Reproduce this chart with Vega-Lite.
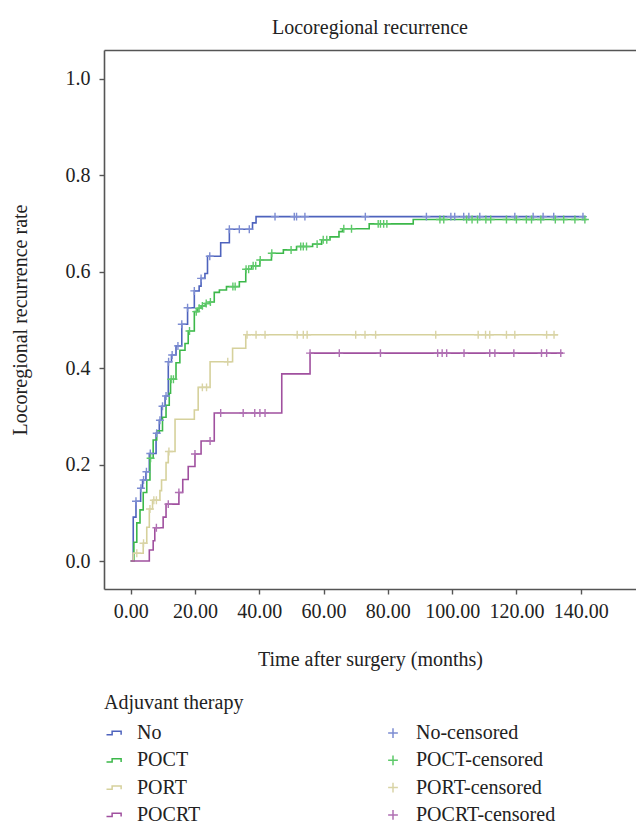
{
  "$schema": "https://vega.github.io/schema/vega-lite/v6.json",
  "width": 532,
  "height": 539,
  "autosize": {"type": "none"},
  "padding": {"left": 104, "top": 50, "right": 0, "bottom": 236},
  "background": "white",
  "title": {"text": "Locoregional recurrence", "font": "Liberation Serif", "fontSize": 20, "fontWeight": "normal", "anchor": "middle", "frame": "group", "offset": 12, "color": "#222222"},
  "config": {
    "view": {"stroke": null},
    "axis": {"labelFont": "Liberation Serif", "labelFontSize": 20, "labelColor": "#222222", "titleFont": "Liberation Serif", "titleFontSize": 20, "titleFontWeight": "normal", "titleColor": "#222222", "domainColor": "#555555", "domainWidth": 1.6, "tickColor": "#555555", "tickWidth": 1.4, "tickSize": 5, "grid": false},
    "legend": {"labelFont": "Liberation Serif", "labelFontSize": 20, "labelColor": "#222222", "titleFont": "Liberation Serif", "titleFontSize": 20, "titleFontWeight": "normal", "titleColor": "#222222"}
  },
  "datasets": {
    "curves": [
      {"g": "No", "t": 0, "r": 0}, {"g": "No", "t": 0.8, "r": 0.091}, {"g": "No", "t": 1.65, "r": 0.124}, {"g": "No", "t": 3.1, "r": 0.151}, {"g": "No", "t": 3.7, "r": 0.168}, {"g": "No", "t": 4.75, "r": 0.185}, {"g": "No", "t": 5.8, "r": 0.223}, {"g": "No", "t": 7.9, "r": 0.265}, {"g": "No", "t": 8.9, "r": 0.292}, {"g": "No", "t": 9.6, "r": 0.321}, {"g": "No", "t": 10.7, "r": 0.342}, {"g": "No", "t": 11.7, "r": 0.413}, {"g": "No", "t": 12.7, "r": 0.427}, {"g": "No", "t": 14.1, "r": 0.446}, {"g": "No", "t": 15.9, "r": 0.491}, {"g": "No", "t": 17.7, "r": 0.525}, {"g": "No", "t": 19.8, "r": 0.56}, {"g": "No", "t": 21.3, "r": 0.57}, {"g": "No", "t": 21.9, "r": 0.586}, {"g": "No", "t": 23.1, "r": 0.596}, {"g": "No", "t": 23.9, "r": 0.632}, {"g": "No", "t": 28.0, "r": 0.66}, {"g": "No", "t": 30.7, "r": 0.688}, {"g": "No", "t": 37.9, "r": 0.701}, {"g": "No", "t": 39.0, "r": 0.714}, {"g": "No", "t": 141.5, "r": 0.714},
      {"g": "POCT", "t": 0, "r": 0}, {"g": "POCT", "t": 1.0, "r": 0.039}, {"g": "POCT", "t": 1.9, "r": 0.079}, {"g": "POCT", "t": 2.9, "r": 0.106}, {"g": "POCT", "t": 3.9, "r": 0.142}, {"g": "POCT", "t": 5.0, "r": 0.168}, {"g": "POCT", "t": 6.0, "r": 0.213}, {"g": "POCT", "t": 7.0, "r": 0.251}, {"g": "POCT", "t": 8.1, "r": 0.27}, {"g": "POCT", "t": 9.9, "r": 0.298}, {"g": "POCT", "t": 11.0, "r": 0.323}, {"g": "POCT", "t": 12.0, "r": 0.348}, {"g": "POCT", "t": 12.4, "r": 0.377}, {"g": "POCT", "t": 14.1, "r": 0.411}, {"g": "POCT", "t": 15.3, "r": 0.437}, {"g": "POCT", "t": 16.9, "r": 0.451}, {"g": "POCT", "t": 17.9, "r": 0.477}, {"g": "POCT", "t": 19.8, "r": 0.517}, {"g": "POCT", "t": 20.9, "r": 0.524}, {"g": "POCT", "t": 21.9, "r": 0.529}, {"g": "POCT", "t": 23.2, "r": 0.534}, {"g": "POCT", "t": 24.5, "r": 0.537}, {"g": "POCT", "t": 26.0, "r": 0.557}, {"g": "POCT", "t": 27.6, "r": 0.562}, {"g": "POCT", "t": 29.8, "r": 0.569}, {"g": "POCT", "t": 33.8, "r": 0.579}, {"g": "POCT", "t": 35.8, "r": 0.605}, {"g": "POCT", "t": 37.6, "r": 0.612}, {"g": "POCT", "t": 40.2, "r": 0.624}, {"g": "POCT", "t": 43.8, "r": 0.638}, {"g": "POCT", "t": 47.5, "r": 0.645}, {"g": "POCT", "t": 51.6, "r": 0.652}, {"g": "POCT", "t": 56.6, "r": 0.657}, {"g": "POCT", "t": 59.4, "r": 0.666}, {"g": "POCT", "t": 62.0, "r": 0.672}, {"g": "POCT", "t": 64.8, "r": 0.683}, {"g": "POCT", "t": 65.9, "r": 0.689}, {"g": "POCT", "t": 74.2, "r": 0.699}, {"g": "POCT", "t": 87.9, "r": 0.708}, {"g": "POCT", "t": 141.9, "r": 0.708},
      {"g": "PORT", "t": 0, "r": 0}, {"g": "PORT", "t": 0.8, "r": 0.016}, {"g": "PORT", "t": 3.9, "r": 0.037}, {"g": "PORT", "t": 5.0, "r": 0.07}, {"g": "PORT", "t": 5.8, "r": 0.108}, {"g": "PORT", "t": 6.8, "r": 0.126}, {"g": "PORT", "t": 9.1, "r": 0.146}, {"g": "PORT", "t": 9.6, "r": 0.168}, {"g": "PORT", "t": 11.0, "r": 0.204}, {"g": "PORT", "t": 11.7, "r": 0.227}, {"g": "PORT", "t": 13.8, "r": 0.294}, {"g": "PORT", "t": 19.8, "r": 0.313}, {"g": "PORT", "t": 21.0, "r": 0.36}, {"g": "PORT", "t": 24.7, "r": 0.413}, {"g": "PORT", "t": 31.7, "r": 0.441}, {"g": "PORT", "t": 35.8, "r": 0.469}, {"g": "PORT", "t": 133.0, "r": 0.469},
      {"g": "POCRT", "t": 0, "r": 0}, {"g": "POCRT", "t": 5.8, "r": 0.023}, {"g": "POCRT", "t": 7.0, "r": 0.042}, {"g": "POCRT", "t": 7.5, "r": 0.069}, {"g": "POCRT", "t": 10.1, "r": 0.091}, {"g": "POCRT", "t": 11.0, "r": 0.118}, {"g": "POCRT", "t": 15.0, "r": 0.142}, {"g": "POCRT", "t": 16.2, "r": 0.169}, {"g": "POCRT", "t": 17.9, "r": 0.196}, {"g": "POCRT", "t": 20.0, "r": 0.222}, {"g": "POCRT", "t": 21.9, "r": 0.249}, {"g": "POCRT", "t": 26.0, "r": 0.307}, {"g": "POCRT", "t": 47.0, "r": 0.388}, {"g": "POCRT", "t": 55.8, "r": 0.431}, {"g": "POCRT", "t": 134.5, "r": 0.431}
    ],
    "censored": [
      {"g": "No-censored", "t": 1.65, "r": 0.124}, {"g": "No-censored", "t": 3.2, "r": 0.151}, {"g": "No-censored", "t": 4.0, "r": 0.168}, {"g": "No-censored", "t": 4.9, "r": 0.185}, {"g": "No-censored", "t": 6.1, "r": 0.223}, {"g": "No-censored", "t": 8.1, "r": 0.265}, {"g": "No-censored", "t": 9.1, "r": 0.292}, {"g": "No-censored", "t": 9.9, "r": 0.321}, {"g": "No-censored", "t": 11.0, "r": 0.342}, {"g": "No-censored", "t": 11.8, "r": 0.413}, {"g": "No-censored", "t": 12.9, "r": 0.427}, {"g": "No-censored", "t": 14.7, "r": 0.446}, {"g": "No-censored", "t": 15.9, "r": 0.491}, {"g": "No-censored", "t": 17.7, "r": 0.525}, {"g": "No-censored", "t": 19.8, "r": 0.56}, {"g": "No-censored", "t": 21.9, "r": 0.586}, {"g": "No-censored", "t": 24.6, "r": 0.632}, {"g": "No-censored", "t": 30.7, "r": 0.688}, {"g": "No-censored", "t": 33.8, "r": 0.688}, {"g": "No-censored", "t": 36.9, "r": 0.688}, {"g": "No-censored", "t": 44.9, "r": 0.714}, {"g": "No-censored", "t": 50.9, "r": 0.714}, {"g": "No-censored", "t": 51.6, "r": 0.714}, {"g": "No-censored", "t": 54.2, "r": 0.714}, {"g": "No-censored", "t": 73.0, "r": 0.714}, {"g": "No-censored", "t": 92.0, "r": 0.714}, {"g": "No-censored", "t": 99.6, "r": 0.714}, {"g": "No-censored", "t": 100.8, "r": 0.714}, {"g": "No-censored", "t": 103.6, "r": 0.714}, {"g": "No-censored", "t": 105.2, "r": 0.714}, {"g": "No-censored", "t": 108.6, "r": 0.714}, {"g": "No-censored", "t": 119.5, "r": 0.714}, {"g": "No-censored", "t": 125.2, "r": 0.714}, {"g": "No-censored", "t": 128.3, "r": 0.714}, {"g": "No-censored", "t": 131.6, "r": 0.714}, {"g": "No-censored", "t": 140.7, "r": 0.714},
      {"g": "POCT-censored", "t": 6.2, "r": 0.213}, {"g": "POCT-censored", "t": 12.6, "r": 0.377}, {"g": "POCT-censored", "t": 13.3, "r": 0.377}, {"g": "POCT-censored", "t": 18.3, "r": 0.477}, {"g": "POCT-censored", "t": 20.4, "r": 0.517}, {"g": "POCT-censored", "t": 21.3, "r": 0.524}, {"g": "POCT-censored", "t": 22.3, "r": 0.529}, {"g": "POCT-censored", "t": 23.5, "r": 0.534}, {"g": "POCT-censored", "t": 24.8, "r": 0.537}, {"g": "POCT-censored", "t": 31.8, "r": 0.569}, {"g": "POCT-censored", "t": 32.5, "r": 0.569}, {"g": "POCT-censored", "t": 35.9, "r": 0.605}, {"g": "POCT-censored", "t": 36.7, "r": 0.605}, {"g": "POCT-censored", "t": 38.1, "r": 0.612}, {"g": "POCT-censored", "t": 38.9, "r": 0.612}, {"g": "POCT-censored", "t": 40.3, "r": 0.624}, {"g": "POCT-censored", "t": 43.9, "r": 0.638}, {"g": "POCT-censored", "t": 49.9, "r": 0.645}, {"g": "POCT-censored", "t": 52.9, "r": 0.652}, {"g": "POCT-censored", "t": 53.7, "r": 0.652}, {"g": "POCT-censored", "t": 54.7, "r": 0.652}, {"g": "POCT-censored", "t": 58.0, "r": 0.657}, {"g": "POCT-censored", "t": 59.9, "r": 0.666}, {"g": "POCT-censored", "t": 61.0, "r": 0.666}, {"g": "POCT-censored", "t": 66.3, "r": 0.689}, {"g": "POCT-censored", "t": 68.7, "r": 0.689}, {"g": "POCT-censored", "t": 77.0, "r": 0.699}, {"g": "POCT-censored", "t": 77.7, "r": 0.699}, {"g": "POCT-censored", "t": 78.7, "r": 0.699}, {"g": "POCT-censored", "t": 79.7, "r": 0.699}, {"g": "POCT-censored", "t": 96.2, "r": 0.708}, {"g": "POCT-censored", "t": 97.4, "r": 0.708}, {"g": "POCT-censored", "t": 104.5, "r": 0.708}, {"g": "POCT-censored", "t": 106.2, "r": 0.708}, {"g": "POCT-censored", "t": 107.9, "r": 0.708}, {"g": "POCT-censored", "t": 110.5, "r": 0.708}, {"g": "POCT-censored", "t": 112.0, "r": 0.708}, {"g": "POCT-censored", "t": 116.9, "r": 0.708}, {"g": "POCT-censored", "t": 120.0, "r": 0.708}, {"g": "POCT-censored", "t": 123.1, "r": 0.708}, {"g": "POCT-censored", "t": 124.7, "r": 0.708}, {"g": "POCT-censored", "t": 127.6, "r": 0.708}, {"g": "POCT-censored", "t": 132.1, "r": 0.708}, {"g": "POCT-censored", "t": 134.7, "r": 0.708}, {"g": "POCT-censored", "t": 138.2, "r": 0.708}, {"g": "POCT-censored", "t": 141.3, "r": 0.708},
      {"g": "PORT-censored", "t": 1.9, "r": 0.016}, {"g": "PORT-censored", "t": 4.0, "r": 0.037}, {"g": "PORT-censored", "t": 6.0, "r": 0.108}, {"g": "PORT-censored", "t": 7.2, "r": 0.126}, {"g": "PORT-censored", "t": 8.0, "r": 0.126}, {"g": "PORT-censored", "t": 11.9, "r": 0.227}, {"g": "PORT-censored", "t": 22.3, "r": 0.36}, {"g": "PORT-censored", "t": 23.6, "r": 0.36}, {"g": "PORT-censored", "t": 30.2, "r": 0.413}, {"g": "PORT-censored", "t": 36.2, "r": 0.469}, {"g": "PORT-censored", "t": 39.0, "r": 0.469}, {"g": "PORT-censored", "t": 41.8, "r": 0.469}, {"g": "PORT-censored", "t": 51.8, "r": 0.469}, {"g": "PORT-censored", "t": 53.7, "r": 0.469}, {"g": "PORT-censored", "t": 54.9, "r": 0.469}, {"g": "PORT-censored", "t": 70.0, "r": 0.469}, {"g": "PORT-censored", "t": 72.9, "r": 0.469}, {"g": "PORT-censored", "t": 76.2, "r": 0.469}, {"g": "PORT-censored", "t": 94.9, "r": 0.469}, {"g": "PORT-censored", "t": 108.1, "r": 0.469}, {"g": "PORT-censored", "t": 110.4, "r": 0.469}, {"g": "PORT-censored", "t": 111.7, "r": 0.469}, {"g": "PORT-censored", "t": 116.9, "r": 0.469}, {"g": "PORT-censored", "t": 119.5, "r": 0.469}, {"g": "PORT-censored", "t": 129.4, "r": 0.469}, {"g": "PORT-censored", "t": 131.7, "r": 0.469},
      {"g": "POCRT-censored", "t": 8.0, "r": 0.069}, {"g": "POCRT-censored", "t": 11.7, "r": 0.118}, {"g": "POCRT-censored", "t": 15.0, "r": 0.142}, {"g": "POCRT-censored", "t": 20.0, "r": 0.222}, {"g": "POCRT-censored", "t": 24.7, "r": 0.249}, {"g": "POCRT-censored", "t": 28.0, "r": 0.307}, {"g": "POCRT-censored", "t": 35.0, "r": 0.307}, {"g": "POCRT-censored", "t": 38.6, "r": 0.307}, {"g": "POCRT-censored", "t": 40.2, "r": 0.307}, {"g": "POCRT-censored", "t": 41.8, "r": 0.307}, {"g": "POCRT-censored", "t": 55.8, "r": 0.431}, {"g": "POCRT-censored", "t": 64.9, "r": 0.431}, {"g": "POCRT-censored", "t": 77.7, "r": 0.431}, {"g": "POCRT-censored", "t": 95.5, "r": 0.431}, {"g": "POCRT-censored", "t": 96.9, "r": 0.431}, {"g": "POCRT-censored", "t": 98.3, "r": 0.431}, {"g": "POCRT-censored", "t": 103.7, "r": 0.431}, {"g": "POCRT-censored", "t": 111.7, "r": 0.431}, {"g": "POCRT-censored", "t": 113.3, "r": 0.431}, {"g": "POCRT-censored", "t": 119.2, "r": 0.431}, {"g": "POCRT-censored", "t": 127.8, "r": 0.431}, {"g": "POCRT-censored", "t": 129.4, "r": 0.431}, {"g": "POCRT-censored", "t": 133.8, "r": 0.431}
    ]
  },
  "layer": [
    {
      "data": {"name": "curves"},
      "mark": {"type": "line", "interpolate": "step-after", "strokeWidth": 1.6},
      "encoding": {
        "x": {"field": "t", "type": "quantitative", "scale": {"domain": [-8.3, 157.2], "nice": false, "zero": false},
              "axis": {"orient": "bottom", "title": "Time after surgery (months)", "values": [0, 20, 40, 60, 80, 100, 120, 140], "format": ".2f", "labelPadding": 7, "titlePadding": 28, "labelFlush": false}},
        "y": {"field": "r", "type": "quantitative", "scale": {"domain": [-0.058, 1.0595], "nice": false, "zero": false},
              "axis": {"title": "Locoregional recurrence rate", "values": [0, 0.2, 0.4, 0.6, 0.8, 1.0], "format": ".1f", "labelPadding": 9, "titlePadding": 35, "labelFlush": false}},
        "color": {"field": "g", "type": "nominal",
                  "scale": {"domain": ["No", "POCT", "PORT", "POCRT", "No-censored", "POCT-censored", "PORT-censored", "POCRT-censored"],
                            "range": ["#4e63bd", "#3cb84a", "#d6d19c", "#a0509f", "#7d8dd2", "#5ec96a", "#d9d4a6", "#b070b3"]},
                  "legend": {"title": "Adjuvant therapy", "orient": "none", "legendX": 0, "legendY": 643, "columns": 2, "columnPadding": 182, "rowPadding": 7.3, "symbolSize": 225, "symbolStrokeWidth": 1.5, "labelOffset": 13, "padding": 0, "titlePadding": 10}}
      }
    },
    {
      "data": {"name": "censored"},
      "mark": {"type": "point", "filled": false, "strokeWidth": 1.4, "size": 150, "opacity": 1},
      "encoding": {
        "x": {"field": "t", "type": "quantitative", "axis": {"orient": "top", "title": null, "labels": false, "ticks": false, "domain": true}},
        "y": {"field": "r", "type": "quantitative",
              "axis": {"title": "Locoregional recurrence rate", "values": [0, 0.2, 0.4, 0.6, 0.8, 1.0], "format": ".1f", "labelPadding": 9, "titlePadding": 35, "labelFlush": false}},
        "color": {"field": "g", "type": "nominal",
                  "legend": {"title": "Adjuvant therapy", "orient": "none", "legendX": 0, "legendY": 643, "columns": 2, "columnPadding": 182, "rowPadding": 7.3, "symbolSize": 225, "symbolStrokeWidth": 1.5, "labelOffset": 13, "padding": 0, "titlePadding": 10}},
        "shape": {"field": "g", "type": "nominal",
                  "scale": {"domain": ["No", "POCT", "PORT", "POCRT", "No-censored", "POCT-censored", "PORT-censored", "POCRT-censored"],
                            "range": ["M-1,0.22H-0.25V-0.22H0.95V0.22", "M-1,0.22H-0.25V-0.22H0.95V0.22", "M-1,0.22H-0.25V-0.22H0.95V0.22", "M-1,0.22H-0.25V-0.22H0.95V0.22", "M-0.65,0H0.65M0,-0.65V0.65", "M-0.65,0H0.65M0,-0.65V0.65", "M-0.65,0H0.65M0,-0.65V0.65", "M-0.65,0H0.65M0,-0.65V0.65"]},
                  "legend": {"title": "Adjuvant therapy", "orient": "none", "legendX": 0, "legendY": 643, "columns": 2, "columnPadding": 182, "rowPadding": 7.3, "symbolSize": 225, "symbolStrokeWidth": 1.5, "labelOffset": 13, "padding": 0, "titlePadding": 10}}
      }
    }
  ],
  "resolve": {"axis": {"x": "independent"}}
}
